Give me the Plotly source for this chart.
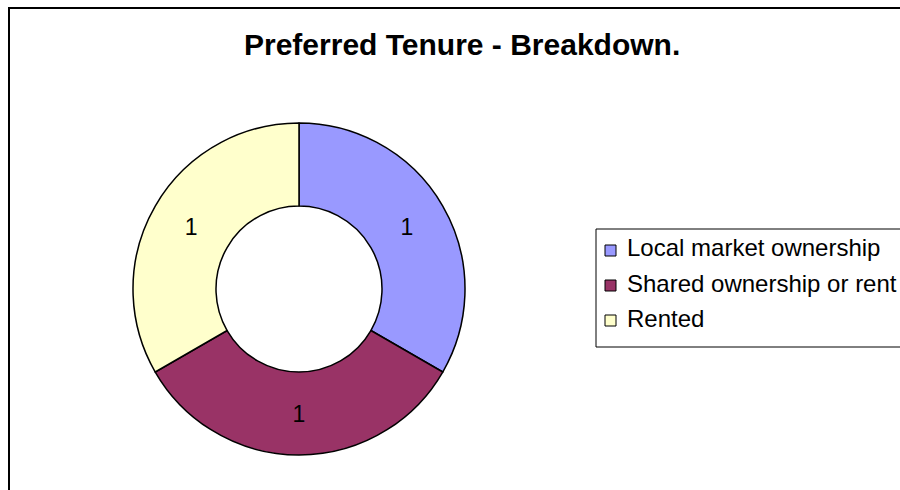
import plotly.graph_objects as go

categories = ["Local market ownership", "Shared ownership or rent", "Rented"]
values = [1, 1, 1]
colors = ["#9999FF", "#993366", "#FFFFCC"]
title_text = "Preferred Tenure - Breakdown."

W, H = 900, 490
def px(x):
    return x / W
def py(y):
    return 1 - y / H

FONT = "Liberation Sans, Arial"

fig = go.Figure()
fig.add_trace(go.Pie(
    labels=categories, values=values, hole=0.5, sort=False,
    direction="clockwise", rotation=0,
    marker=dict(colors=colors, line=dict(color="black", width=1.5)),
    textinfo="value", textposition="inside", insidetextorientation="horizontal",
    textfont=dict(family=FONT, size=23, color="black"),
    domain=dict(x=[px(133), px(465)], y=[py(455), py(123)]),
    showlegend=False, hoverinfo="label+value",
))

shapes = [
    dict(type="rect", xref="paper", yref="paper", x0=px(9), x1=px(930), y0=py(520), y1=py(8),
         line=dict(color="black", width=2), fillcolor="rgba(0,0,0,0)"),
    dict(type="rect", xref="paper", yref="paper", x0=px(596), x1=px(930), y0=py(347), y1=py(229),
         line=dict(color="black", width=1), fillcolor="white", layer="below"),
]
annotations = [
    dict(text="<b>" + title_text + "</b>", x=px(462), y=py(45), xref="paper", yref="paper",
         showarrow=False, xanchor="center", yanchor="middle",
         font=dict(family=FONT, size=30, color="black")),
]
ys = [248, 283, 318]
for cat, col, yy in zip(categories, colors, ys):
    shapes.append(dict(type="rect", xref="paper", yref="paper", x0=px(605), x1=px(616),
                       y0=py(yy + 8), y1=py(yy - 3), line=dict(color="black", width=1), fillcolor=col))
    annotations.append(dict(text=cat, x=px(625), y=py(yy), xref="paper", yref="paper",
                            showarrow=False, xanchor="left", yanchor="middle",
                            font=dict(family=FONT, size=24, color="black")))

fig.update_layout(
    width=W, height=H, margin=dict(l=0, r=0, t=0, b=0),
    paper_bgcolor="white", plot_bgcolor="white",
    shapes=shapes, annotations=annotations,
)
fig.write_html(
    "out.html",
    config={"displayModeBar": False},
    post_script="document.body.style.margin='0';document.body.style.overflow='hidden';",
)
